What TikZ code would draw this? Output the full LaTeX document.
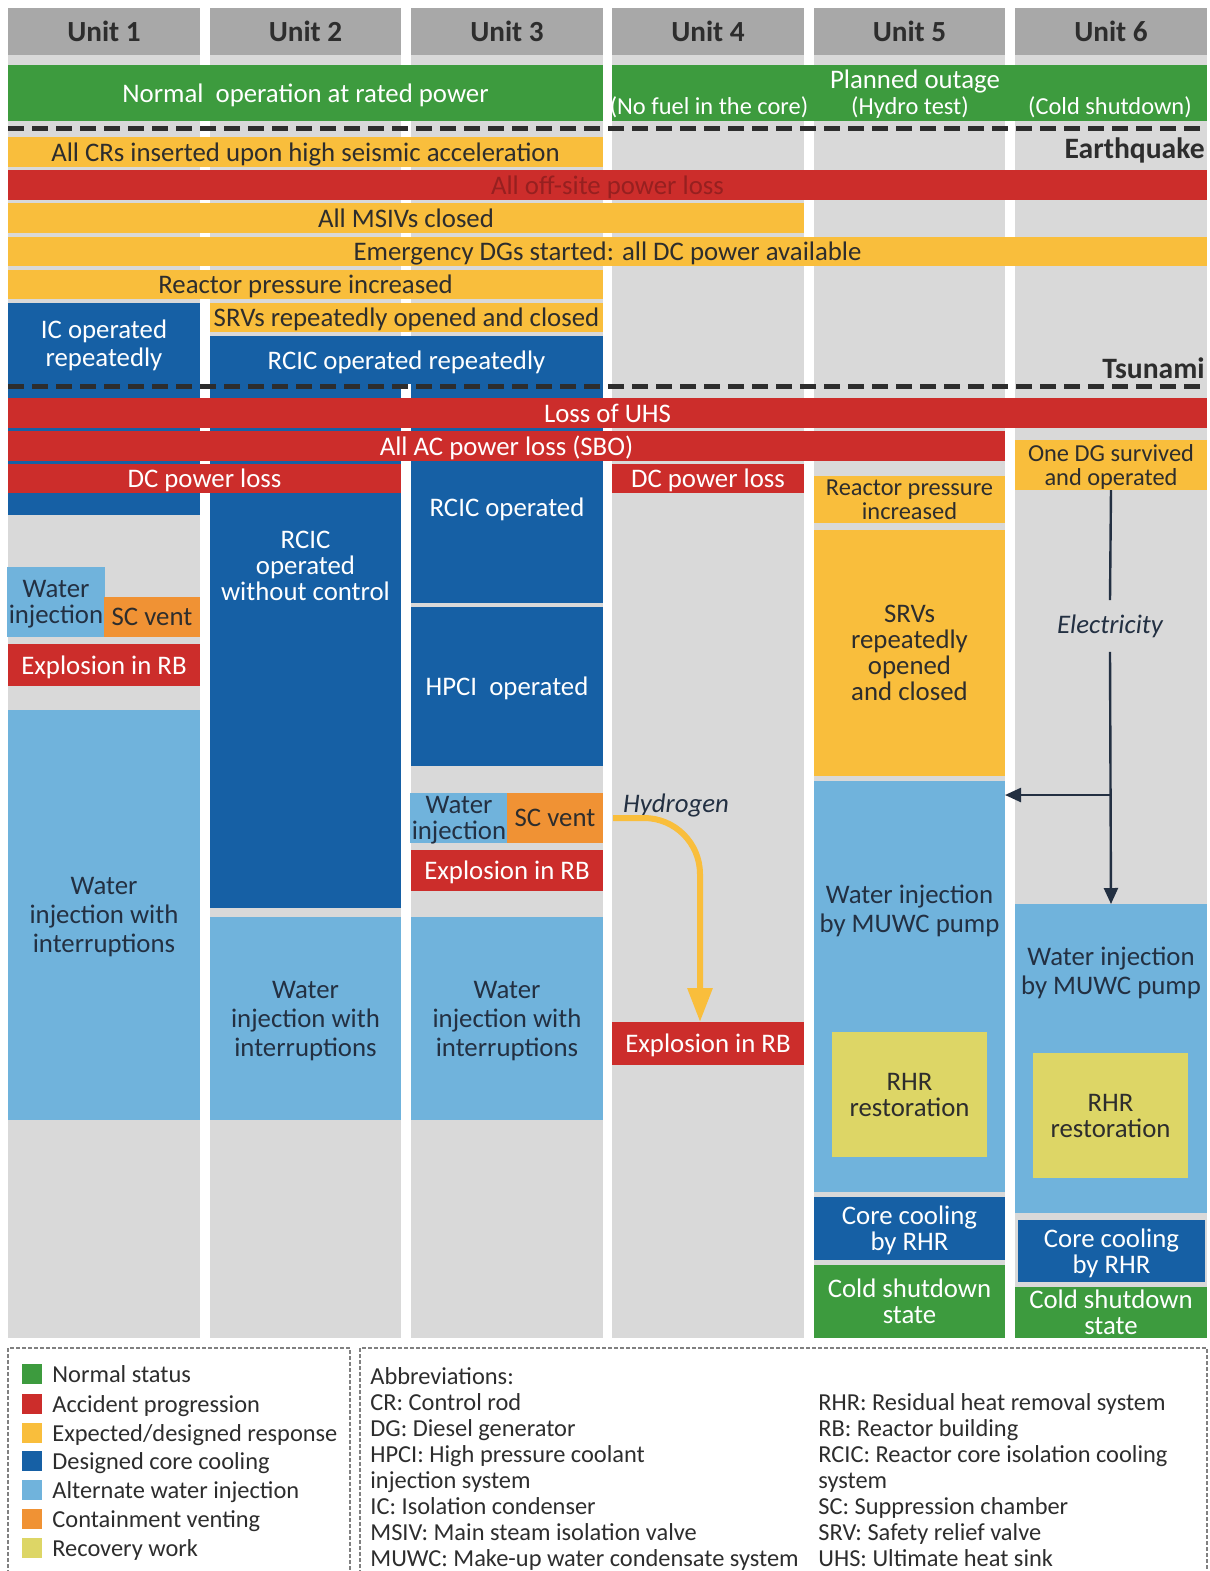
\documentclass[tikz,border=0pt]{standalone}
\usepackage{fontspec}
\setmainfont{Carlito}
\usepackage{tikz}
\usepackage{color}
\usetikzlibrary{arrows.meta,positioning}
\definecolor{cgreen}{RGB}{61,155,62}
\definecolor{cred}{RGB}{204,45,43}
\definecolor{cdarkred}{RGB}{150,32,32}
\definecolor{cyellow}{RGB}{249,190,60}
\definecolor{cblue}{RGB}{22,96,165}
\definecolor{clight}{RGB}{112,179,220}
\definecolor{corange}{RGB}{240,146,52}
\definecolor{crecov}{RGB}{221,214,102}
\definecolor{cgray}{RGB}{217,217,217}
\definecolor{chead}{RGB}{168,168,168}
\definecolor{ctext}{RGB}{45,45,45}
\definecolor{cnavy}{RGB}{35,48,66}
\newcommand{\fs}{\fontsize{13.4}{13}\selectfont}
\newcommand{\fss}{\fontsize{12.2}{12}\selectfont}
\newcommand{\lfs}{\fontsize{12.2}{13}\selectfont}
\tikzstyle{box} = [rectangle, inner sep=1pt, outer sep=0pt, align=center, font=\fs,
    text depth=0pt]
\tikzstyle{normal} = [box, fill=cgreen, text=white]
\tikzstyle{accident} = [box, fill=cred, text=white]
\tikzstyle{expected} = [box, fill=cyellow, text=ctext]
\tikzstyle{cooling} = [box, fill=cblue, text=white]
\tikzstyle{altwater} = [box, fill=clight, text=cnavy]
\tikzstyle{venting} = [box, fill=corange, text=ctext]
\tikzstyle{recovery} = [box, fill=crecov, text=ctext]
\tikzstyle{column} = [box, fill=cgray]
\tikzstyle{header} = [box, fill=chead, text=ctext, font=\fontsize{14.6}{14}\selectfont\bfseries]
\tikzstyle{event} = [inner sep=0pt, text=ctext, text depth=0pt,
    font=\fontsize{14.8}{14}\selectfont\bfseries]
\tikzstyle{note} = [inner sep=1pt, text=cnavy, font=\fs\itshape]
\tikzstyle{sepline} = [draw=ctext, line width=2.5pt, dash pattern=on 8pt off 4pt]
\tikzstyle{elecline} = [draw=cnavy, line width=1.2pt]
\tikzstyle{h2line} = [draw=cyellow, line width=3pt, rounded corners=28pt,
    -{Triangle[length=17pt,width=12pt]}]
\tikzstyle{frame} = [draw=gray, line width=0.6pt, dash pattern=on 2pt off 1pt]
\tikzstyle{legsq} = [rectangle, minimum size=10pt, inner sep=0pt, outer sep=0pt]
\tikzstyle{legtext} = [inner sep=0pt, text=ctext, font=\lfs, text depth=0pt]
\tikzstyle{abbr} = [inner sep=0pt, align=left, text=ctext, font=\lfs]
\newcommand{\evt}[7]{\node[#1, minimum width={(#5-#3)*0.5pt},
    minimum height={(#6-#4)*0.5pt}] (#2) at ({(#3+#5)/2},{(#4+#6)/2}) {#7};}
\newcommand{\evtat}[8]{\node[#1, minimum width={(#5-#3)*0.5pt},
    minimum height={(#6-#4)*0.5pt}] (#2) at ({(#3+#5)/2},{(#4+#6)/2}) {};
    \node[#1, fill=none] (#2t) at ({(#3+#5)/2},#7) {#8};}
\begin{document}
\begin{tikzpicture}[x=0.5pt, y=-0.5pt]
    \useasboundingbox (0,0) rectangle (1210,1571);
    % Place columns
    \evt{column}{col1}{8}{55}{200}{1338}{}
    \evt{column}{col2}{210}{55}{401}{1338}{}
    \evt{column}{col3}{411}{55}{603}{1338}{}
    \evt{column}{col4}{612}{55}{804}{1338}{}
    \evt{column}{col5}{814}{55}{1005}{1338}{}
    \evt{column}{col6}{1015}{55}{1207}{1338}{}
    \evt{header}{u1}{8}{8}{200}{55}{Unit 1}
    \evt{header}{u2}{210}{8}{401}{55}{Unit 2}
    \evt{header}{u3}{411}{8}{603}{55}{Unit 3}
    \evt{header}{u4}{612}{8}{804}{55}{Unit 4}
    \evt{header}{u5}{814}{8}{1005}{55}{Unit 5}
    \evt{header}{u6}{1015}{8}{1207}{55}{Unit 6}
    % Before the earthquake
    \evt{normal}{rated}{8}{65}{603}{121}{Normal\ \ operation at rated power}
    \evt{normal}{outage}{612}{65}{1207}{121}{}
    \node[normal, fill=none] (planned) at (915,79) {Planned outage};
    \node[normal, fill=none, font=\fss] (nofuel) at (709,106) {(No fuel in the core)};
    \node[normal, fill=none, font=\fss] (hydro) at (910,106) {(Hydro test)};
    \node[normal, fill=none, font=\fss] (coldsd) at (1110,106) {(Cold shutdown)};
    \draw[sepline] (8,128) -- (1207,128);
    % Earthquake
    \node[event, anchor=east] (quake) at (1205,148) {Earthquake};
    \evt{expected}{crs}{8}{137}{603}{167}{All CRs inserted upon high seismic acceleration}
    \evt{accident, text=cdarkred}{offsite}{8}{170}{1207}{200}{All off-site power loss}
    \evt{expected}{msiv}{8}{203}{804}{233}{All MSIVs closed}
    \evt{expected}{edg}{8}{237}{1207}{266}{Emergency DGs started: all DC power available}
    \evt{expected}{press}{8}{270}{603}{299}{Reactor pressure increased}
    \fill[cblue] (8,384) rectangle (200,515);
    \fill[cblue] (210,384) rectangle (401,493);
    \fill[cblue] (411,384) rectangle (603,461);
    \evt{cooling}{ic1}{8}{303}{200}{384}{IC operated\\[1pt]repeatedly}
    \evt{expected}{srv23}{210}{303}{603}{332}{SRVs repeatedly opened and closed}
    \evt{cooling}{rcic23}{210}{336}{603}{384}{RCIC operated repeatedly}
    \node[event, anchor=east] (tsunami) at (1205,368) {Tsunami};
    \draw[sepline] (8,386) -- (1207,386);
    % Tsunami
    \evt{accident}{uhs}{8}{398}{1207}{428}{Loss of UHS}
    \evt{accident}{sbo}{8}{431}{1005}{461}{All AC power loss (SBO)}
    \evt{accident}{dc12}{8}{464}{401}{493}{DC power loss}
    \evt{accident}{dc4}{612}{464}{804}{493}{DC power loss}
    \evt{expected, font=\fss}{dg6}{1015}{440}{1207}{490}{One DG survived\\and operated}
    % Unit 1
    \evt{altwater}{wi1}{8}{567}{104}{637}{Water\\injection}
    \evt{venting}{vent1}{104}{597}{200}{637}{SC vent}
    \evt{accident}{exp1}{8}{644}{200}{686}{Explosion in RB}
    \evt{altwater}{wii1}{8}{710}{200}{1120}{Water\\[1.5pt]injection with\\[1.5pt]interruptions}
    % Unit 2
    \evtat{cooling}{rcic2}{210}{493}{401}{908}{566}{RCIC\\operated\\without control}
    \evt{altwater}{wii2}{210}{917}{401}{1120}{Water\\[1.5pt]injection with\\[1.5pt]interruptions}
    % Unit 3
    \evtat{cooling}{rcic3}{411}{461}{603}{603}{507}{RCIC operated}
    \evt{cooling}{hpci3}{411}{607}{603}{766}{HPCI\ \ operated}
    \evt{altwater}{wi3}{411}{793}{507}{843}{Water\\injection}
    \evt{venting}{vent3}{507}{793}{603}{843}{SC vent}
    \evt{accident}{exp3}{411}{850}{603}{891}{Explosion in RB}
    \evt{altwater}{wii3}{411}{917}{603}{1120}{Water\\[1.5pt]injection with\\[1.5pt]interruptions}
    % Unit 4
    \node[note] (h2) at (676,805) {Hydrogen};
    \evt{accident}{exp4}{612}{1022}{804}{1065}{Explosion in RB}
    % Unit 5
    \evt{expected, font=\fss}{press5}{814}{476}{1005}{523}{Reactor pressure\\increased}
    \evt{expected}{srv5}{814}{530}{1005}{776}{SRVs\\repeatedly\\opened\\and closed}
    \evtat{altwater}{muwc5}{814}{781}{1005}{1192}{909}{Water injection\\[1.5pt]by MUWC pump}
    \evt{recovery}{rhr5}{832}{1032}{987}{1157}{RHR\\restoration}
    \evt{cooling}{cc5}{814}{1197}{1005}{1260}{Core cooling\\by RHR}
    \evt{normal}{cs5}{814}{1265}{1005}{1338}{Cold shutdown\\state}
    % Unit 6
    \node[note, fill=cgray, inner ysep=7pt] (elec) at (1110,626) {Electricity};
    \evtat{altwater}{muwc6}{1015}{904}{1207}{1213}{971}{Water injection\\[1.5pt]by MUWC pump}
    \evt{recovery}{rhr6}{1033}{1053}{1188}{1178}{RHR\\restoration}
    \evt{cooling}{cc6}{1018}{1220}{1205}{1282}{Core cooling\\by RHR}
    \evt{normal}{cs6}{1015}{1287}{1207}{1338}{Cold shutdown\\state}
    % Draw edges
    \coordinate (split) at (1110,795);
    \path [elecline] (dg6.south) -- (elec.north);
    \path [elecline, -{Triangle[length=8pt,width=7pt]}] (elec.south) -- (muwc6.north);
    \path [elecline, -{Triangle[length=8pt,width=7pt]}] (split) -- (split -| muwc5.east);
    \path [h2line] ([xshift=5pt]vent3.east) -| ([xshift=-4pt]exp4.north);
    % Legend
    \draw[frame] (8,1580) |- (350,1348) -- (350,1580);
    \draw[frame] (360,1580) |- (1207,1348) -- (1207,1580);
    \node[legsq, fill=cgreen] (lg1) at (32,1374) {};
    \node[legsq, fill=cred] (lg2) at (32,1404) {};
    \node[legsq, fill=cyellow] (lg3) at (32,1433) {};
    \node[legsq, fill=cblue] (lg4) at (32,1461) {};
    \node[legsq, fill=clight] (lg5) at (32,1490) {};
    \node[legsq, fill=corange] (lg6) at (32,1519) {};
    \node[legsq, fill=crecov] (lg7) at (32,1548) {};
    \node[legtext, right=5pt of lg1] (lt1) {Normal status};
    \node[legtext, right=5pt of lg2] (lt2) {Accident progression};
    \node[legtext, right=5pt of lg3] (lt3) {Expected/designed response};
    \node[legtext, right=5pt of lg4] (lt4) {Designed core cooling};
    \node[legtext, right=5pt of lg5] (lt5) {Alternate water injection};
    \node[legtext, right=5pt of lg6] (lt6) {Containment venting};
    \node[legtext, right=5pt of lg7] (lt7) {Recovery work};
    \node[abbr, anchor=north west] (abbr1) at (370,1367) {Abbreviations:\\CR: Control rod\\DG: Diesel generator\\HPCI: High pressure coolant\\injection system\\IC: Isolation condenser\\MSIV: Main steam isolation valve\\MUWC: Make-up water condensate system};
    \node[abbr, anchor=north west] (abbr2) at (818,1393) {RHR: Residual heat removal system\\RB: Reactor building\\RCIC: Reactor core isolation cooling\\system\\SC: Suppression chamber\\SRV: Safety relief valve\\UHS: Ultimate heat sink};
\end{tikzpicture}
\end{document}
